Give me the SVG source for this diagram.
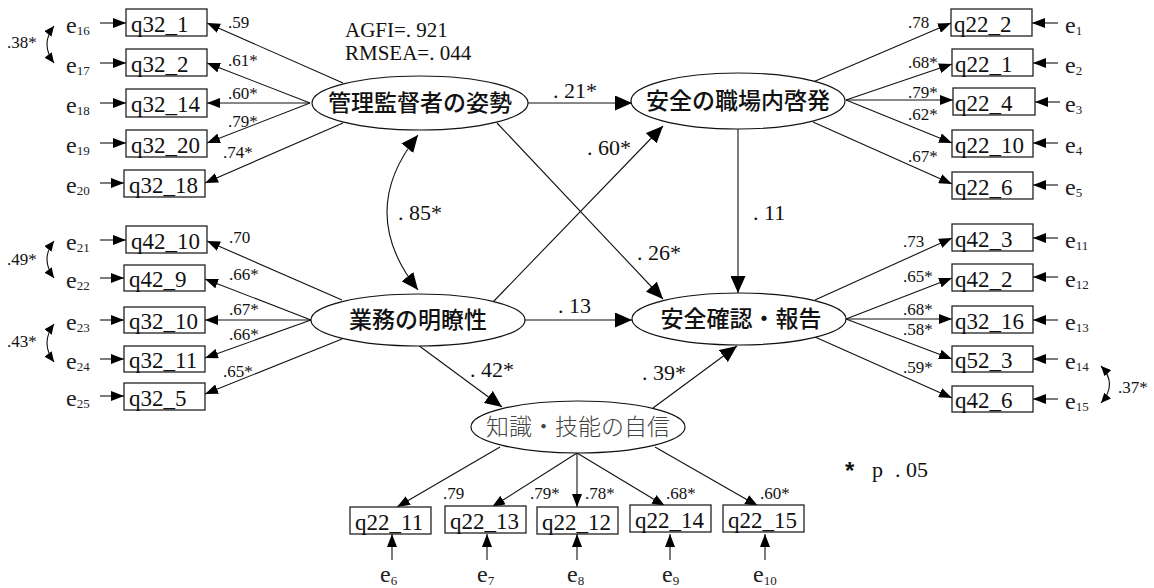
<svg xmlns="http://www.w3.org/2000/svg" width="1154" height="588" viewBox="0 0 1154 588">
<style>
.bg{fill:#fff}
.box{fill:#fff;stroke:#222;stroke-width:1.3}
.lv{fill:#fff;stroke:#111;stroke-width:1.2}
.lt{font-family:'Noto Sans CJK JP','Noto Sans',sans-serif;font-size:23px;font-weight:500;fill:#111;text-anchor:middle}
.lt2{font-family:'Noto Sans CJK JP','Noto Sans',sans-serif;font-size:23px;font-weight:300;fill:#444;text-anchor:middle}
.bt{font-family:'Liberation Serif','DejaVu Serif','Times New Roman',serif;font-size:23px;fill:#111}
.et{font-family:'Liberation Serif','DejaVu Serif','Times New Roman',serif;font-size:24px;fill:#222}
.sub{font-size:13px}
.pl{font-family:'Liberation Serif','DejaVu Serif','Times New Roman',serif;font-size:17px;fill:#111}
.sl{font-family:'Liberation Serif','DejaVu Serif','Times New Roman',serif;font-size:22px;fill:#111}
.st{font-family:'Liberation Serif','DejaVu Serif','Times New Roman',serif;font-size:21px;fill:#111}
.ln{stroke:#111;stroke-width:1.1;fill:none}
</style>
<defs>
<marker id="ab" markerUnits="userSpaceOnUse" markerWidth="17" markerHeight="15" refX="17" refY="7.5" orient="auto"><path d="M0,0 L17,7.5 L0,15 z" fill="#000"/></marker>
<marker id="ad" markerUnits="userSpaceOnUse" markerWidth="17" markerHeight="15" refX="17" refY="7.5" orient="auto-start-reverse"><path d="M0,0 L17,7.5 L0,15 z" fill="#000"/></marker>
<marker id="as" markerUnits="userSpaceOnUse" markerWidth="13" markerHeight="10" refX="13" refY="5" orient="auto"><path d="M0,0 L13,5 L0,10 z" fill="#000"/></marker>
<marker id="ac" markerUnits="userSpaceOnUse" markerWidth="10" markerHeight="9" refX="10" refY="4.5" orient="auto-start-reverse"><path d="M0,0 L10,4.5 L0,9 z" fill="#000"/></marker>
</defs>
<rect class="bg" x="0" y="0" width="1154" height="588"/>

<g id="connectors">
<path class="ln" marker-end="url(#as)" d="M343,83 L207,23"/>
<path class="ln" marker-end="url(#as)" d="M310,103 L207,63"/>
<path class="ln" marker-end="url(#as)" d="M310,103 L207,103"/>
<path class="ln" marker-end="url(#as)" d="M310,103 L207,143"/>
<path class="ln" marker-end="url(#as)" d="M343,123 L205,183"/>
<path class="ln" marker-end="url(#as)" d="M342,300 L207,241"/>
<path class="ln" marker-end="url(#as)" d="M311,320 L205,279"/>
<path class="ln" marker-end="url(#as)" d="M311,320 L205,320"/>
<path class="ln" marker-end="url(#as)" d="M311,320 L205,358"/>
<path class="ln" marker-end="url(#as)" d="M342,339 L205,394"/>
<path class="ln" marker-end="url(#as)" d="M813,82 L951,23"/>
<path class="ln" marker-end="url(#as)" d="M846,100 L952,64"/>
<path class="ln" marker-end="url(#as)" d="M846,100 L953,100"/>
<path class="ln" marker-end="url(#as)" d="M846,100 L952,143"/>
<path class="ln" marker-end="url(#as)" d="M813,122 L952,184"/>
<path class="ln" marker-end="url(#as)" d="M815,300 L952,238"/>
<path class="ln" marker-end="url(#as)" d="M846,319 L952,278"/>
<path class="ln" marker-end="url(#as)" d="M846,319 L952,319"/>
<path class="ln" marker-end="url(#as)" d="M846,319 L952,359"/>
<path class="ln" marker-end="url(#as)" d="M815,337 L952,398"/>
<path class="ln" marker-end="url(#as)" d="M500,447 L397,507"/>
<path class="ln" marker-end="url(#as)" d="M577,453 L492,507"/>
<path class="ln" marker-end="url(#as)" d="M577,453 L577,507"/>
<path class="ln" marker-end="url(#as)" d="M577,453 L665,506"/>
<path class="ln" marker-end="url(#as)" d="M655,447 L758,506"/>
<path class="ln" marker-end="url(#ab)" d="M528,103 L632,103"/>
<path class="ln" marker-end="url(#ab)" d="M493,302 L663,126"/>
<path class="ln" marker-end="url(#ab)" d="M497,123 L663,299"/>
<path class="ln" marker-end="url(#ab)" d="M738,129 L738,293"/>
<path class="ln" marker-start="url(#ad)" marker-end="url(#ad)" d="M418,135 Q356,212 418,290"/>
<path class="ln" marker-end="url(#ab)" d="M525,320 L632,320"/>
<path class="ln" marker-end="url(#ab)" d="M418,345 L502,407"/>
<path class="ln" marker-end="url(#ab)" d="M653,408 L737,346"/>
<path class="ln" marker-end="url(#as)" d="M100,23 L126,23"/>
<path class="ln" marker-end="url(#as)" d="M100,63 L126,63"/>
<path class="ln" marker-end="url(#as)" d="M100,103 L126,103"/>
<path class="ln" marker-end="url(#as)" d="M100,143 L126,143"/>
<path class="ln" marker-end="url(#as)" d="M100,183 L124,183"/>
<path class="ln" marker-end="url(#as)" d="M100,240 L126,240"/>
<path class="ln" marker-end="url(#as)" d="M100,278 L124,278"/>
<path class="ln" marker-end="url(#as)" d="M100,320 L124,320"/>
<path class="ln" marker-end="url(#as)" d="M100,359 L124,359"/>
<path class="ln" marker-end="url(#as)" d="M100,396 L124,396"/>
<path class="ln" marker-end="url(#as)" d="M1058,23 L1032,23"/>
<path class="ln" marker-end="url(#as)" d="M1058,63 L1033,63"/>
<path class="ln" marker-end="url(#as)" d="M1060,102 L1035,102"/>
<path class="ln" marker-end="url(#as)" d="M1058,143 L1033,143"/>
<path class="ln" marker-end="url(#as)" d="M1058,185 L1033,185"/>
<path class="ln" marker-end="url(#as)" d="M1058,238 L1033,238"/>
<path class="ln" marker-end="url(#as)" d="M1058,277 L1033,277"/>
<path class="ln" marker-end="url(#as)" d="M1058,320 L1033,320"/>
<path class="ln" marker-end="url(#as)" d="M1058,359 L1033,359"/>
<path class="ln" marker-end="url(#as)" d="M1058,399 L1033,399"/>
<path class="ln" marker-end="url(#as)" d="M392,560 L392,534"/>
<path class="ln" marker-end="url(#as)" d="M487,560 L487,534"/>
<path class="ln" marker-end="url(#as)" d="M577,560 L577,534"/>
<path class="ln" marker-end="url(#as)" d="M670,560 L670,534"/>
<path class="ln" marker-end="url(#as)" d="M765,560 L765,534"/>
<path class="ln" marker-start="url(#ac)" marker-end="url(#ac)" d="M54,26 Q40,44 54,63"/>
<path class="ln" marker-start="url(#ac)" marker-end="url(#ac)" d="M54,241 Q40,259 54,278"/>
<path class="ln" marker-start="url(#ac)" marker-end="url(#ac)" d="M54,324 Q40,343 54,362"/>
<path class="ln" marker-start="url(#ac)" marker-end="url(#ac)" d="M1101,366 Q1118,384 1101,403"/>
</g>

<g id="labels">
<text class="pl" x="228" y="28">.59</text>
<text class="pl" x="228" y="66">.61*</text>
<text class="pl" x="228" y="99">.60*</text>
<text class="pl" x="228" y="127">.79*</text>
<text class="pl" x="223" y="158">.74*</text>
<text class="pl" x="229" y="243">.70</text>
<text class="pl" x="229" y="280">.66*</text>
<text class="pl" x="229" y="315">.67*</text>
<text class="pl" x="229" y="340">.66*</text>
<text class="pl" x="223" y="377">.65*</text>
<text class="pl" x="7" y="48">.38*</text>
<text class="pl" x="7" y="265">.49*</text>
<text class="pl" x="7" y="347">.43*</text>
<text class="pl" x="908" y="28">.78</text>
<text class="pl" x="908" y="68">.68*</text>
<text class="pl" x="908" y="98">.79*</text>
<text class="pl" x="908" y="120">.62*</text>
<text class="pl" x="908" y="162">.67*</text>
<text class="pl" x="903" y="247">.73</text>
<text class="pl" x="903" y="282">.65*</text>
<text class="pl" x="903" y="315">.68*</text>
<text class="pl" x="903" y="335">.58*</text>
<text class="pl" x="903" y="373">.59*</text>
<text class="pl" x="1118" y="393">.37*</text>
<text class="pl" x="443" y="499">.79</text>
<text class="pl" x="530" y="499">.79*</text>
<text class="pl" x="585" y="499">.78*</text>
<text class="pl" x="666" y="499">.68*</text>
<text class="pl" x="760" y="499">.60*</text>
<text class="sl" x="553" y="98">. 21*</text>
<text class="sl" x="587" y="155">. 60*</text>
<text class="sl" x="637" y="260">. 26*</text>
<text class="sl" x="753" y="220">. 11</text>
<text class="sl" x="398" y="220">. 85*</text>
<text class="sl" x="558" y="313">. 13</text>
<text class="sl" x="470" y="377">. 42*</text>
<text class="sl" x="642" y="380">. 39*</text>
<text class="st" x="345" y="37">AGFI=. 921</text>
<text class="st" x="345" y="60">RMSEA=. 044</text>
<text class="sl" x="845" y="479"><tspan font-family="'Liberation Sans',sans-serif" font-weight="bold" font-size="24">*</tspan><tspan x="872" y="477">p</tspan><tspan x="895" y="477">. 05</tspan></text>
</g>

<g id="L1"><ellipse class="lv" cx="420" cy="103" rx="108" ry="27"/><text class="lt" x="420" y="111">管理監督者の姿勢</text></g>
<g id="L2"><ellipse class="lv" cx="738" cy="101" rx="107" ry="28"/><text class="lt" x="738" y="109">安全の職場内啓発</text></g>
<g id="L3"><ellipse class="lv" cx="418" cy="320" rx="107" ry="26"/><text class="lt" x="418" y="328">業務の明瞭性</text></g>
<g id="L4"><ellipse class="lv" cx="739" cy="319" rx="107" ry="26"/><text class="lt" x="741" y="327">安全確認・報告</text></g>
<g id="L5"><ellipse class="lv" cx="578" cy="427" rx="107" ry="26"/><text class="lt2" x="578" y="435">知識・技能の自信</text></g>

<g id="n_q32_1"><rect class="box" x="126" y="9" width="81" height="27"/><text class="bt" x="131" y="32">q32_1</text></g>
<g id="n_q32_2"><rect class="box" x="126" y="49" width="81" height="27"/><text class="bt" x="131" y="72">q32_2</text></g>
<g id="n_q32_14"><rect class="box" x="126" y="89" width="81" height="28"/><text class="bt" x="131" y="112">q32_14</text></g>
<g id="n_q32_20"><rect class="box" x="126" y="130" width="81" height="27"/><text class="bt" x="131" y="153">q32_20</text></g>
<g id="n_q32_18"><rect class="box" x="124" y="170" width="81" height="27"/><text class="bt" x="129" y="193">q32_18</text></g>
<g id="n_q42_10"><rect class="box" x="126" y="226" width="81" height="27"/><text class="bt" x="131" y="249">q42_10</text></g>
<g id="n_q42_9"><rect class="box" x="124" y="265" width="81" height="26"/><text class="bt" x="129" y="287">q42_9</text></g>
<g id="n_q32_10"><rect class="box" x="124" y="307" width="81" height="26"/><text class="bt" x="129" y="329">q32_10</text></g>
<g id="n_q32_11"><rect class="box" x="124" y="346" width="81" height="26"/><text class="bt" x="129" y="368">q32_11</text></g>
<g id="n_q32_5"><rect class="box" x="124" y="383" width="81" height="27"/><text class="bt" x="129" y="406">q32_5</text></g>

<g id="n_q22_2"><rect class="box" x="951" y="9" width="81" height="27"/><text class="bt" x="954" y="32">q22_2</text></g>
<g id="n_q22_1"><rect class="box" x="952" y="49" width="81" height="27"/><text class="bt" x="955" y="72">q22_1</text></g>
<g id="n_q22_4"><rect class="box" x="953" y="88" width="82" height="27"/><text class="bt" x="955" y="111">q22_4</text></g>
<g id="n_q22_10"><rect class="box" x="952" y="130" width="81" height="27"/><text class="bt" x="955" y="153">q22_10</text></g>
<g id="n_q22_6"><rect class="box" x="952" y="172" width="81" height="27"/><text class="bt" x="955" y="195">q22_6</text></g>
<g id="n_q42_3"><rect class="box" x="952" y="224" width="81" height="27"/><text class="bt" x="955" y="247">q42_3</text></g>
<g id="n_q42_2"><rect class="box" x="952" y="264" width="81" height="27"/><text class="bt" x="955" y="287">q42_2</text></g>
<g id="n_q32_16"><rect class="box" x="952" y="306" width="81" height="27"/><text class="bt" x="955" y="329">q32_16</text></g>
<g id="n_q52_3"><rect class="box" x="952" y="346" width="81" height="26"/><text class="bt" x="955" y="368">q52_3</text></g>
<g id="n_q42_6"><rect class="box" x="952" y="386" width="81" height="26"/><text class="bt" x="955" y="408">q42_6</text></g>

<g id="n_q22_11"><rect class="box" x="350" y="507" width="81" height="27"/><text class="bt" x="355" y="530">q22_11</text></g>
<g id="n_q22_13"><rect class="box" x="445" y="506" width="81" height="27"/><text class="bt" x="450" y="529">q22_13</text></g>
<g id="n_q22_12"><rect class="box" x="537" y="507" width="81" height="27"/><text class="bt" x="542" y="530">q22_12</text></g>
<g id="n_q22_14"><rect class="box" x="630" y="505" width="81" height="27"/><text class="bt" x="635" y="528">q22_14</text></g>
<g id="n_q22_15"><rect class="box" x="723" y="505" width="81" height="27"/><text class="bt" x="728" y="528">q22_15</text></g>

<g id="n_e16"><text class="et" x="66" y="33">e<tspan class="sub" dy="2">16</tspan></text></g>
<g id="n_e17"><text class="et" x="66" y="73">e<tspan class="sub" dy="2">17</tspan></text></g>
<g id="n_e18"><text class="et" x="66" y="113">e<tspan class="sub" dy="2">18</tspan></text></g>
<g id="n_e19"><text class="et" x="66" y="153">e<tspan class="sub" dy="2">19</tspan></text></g>
<g id="n_e20"><text class="et" x="66" y="193">e<tspan class="sub" dy="2">20</tspan></text></g>
<g id="n_e21"><text class="et" x="66" y="250">e<tspan class="sub" dy="2">21</tspan></text></g>
<g id="n_e22"><text class="et" x="66" y="288">e<tspan class="sub" dy="2">22</tspan></text></g>
<g id="n_e23"><text class="et" x="66" y="330">e<tspan class="sub" dy="2">23</tspan></text></g>
<g id="n_e24"><text class="et" x="66" y="369">e<tspan class="sub" dy="2">24</tspan></text></g>
<g id="n_e25"><text class="et" x="66" y="406">e<tspan class="sub" dy="2">25</tspan></text></g>

<g id="n_e1"><text class="et" x="1065" y="33">e<tspan class="sub" dy="2">1</tspan></text></g>
<g id="n_e2"><text class="et" x="1065" y="73">e<tspan class="sub" dy="2">2</tspan></text></g>
<g id="n_e3"><text class="et" x="1065" y="112">e<tspan class="sub" dy="2">3</tspan></text></g>
<g id="n_e4"><text class="et" x="1065" y="153">e<tspan class="sub" dy="2">4</tspan></text></g>
<g id="n_e5"><text class="et" x="1065" y="195">e<tspan class="sub" dy="2">5</tspan></text></g>
<g id="n_e11"><text class="et" x="1065" y="248">e<tspan class="sub" dy="2">11</tspan></text></g>
<g id="n_e12"><text class="et" x="1065" y="287">e<tspan class="sub" dy="2">12</tspan></text></g>
<g id="n_e13"><text class="et" x="1065" y="330">e<tspan class="sub" dy="2">13</tspan></text></g>
<g id="n_e14"><text class="et" x="1065" y="369">e<tspan class="sub" dy="2">14</tspan></text></g>
<g id="n_e15"><text class="et" x="1065" y="409">e<tspan class="sub" dy="2">15</tspan></text></g>

<g id="n_e6"><text class="et" x="380" y="582">e<tspan class="sub" dy="3">6</tspan></text></g>
<g id="n_e7"><text class="et" x="477" y="582">e<tspan class="sub" dy="3">7</tspan></text></g>
<g id="n_e8"><text class="et" x="567" y="582">e<tspan class="sub" dy="3">8</tspan></text></g>
<g id="n_e9"><text class="et" x="662" y="582">e<tspan class="sub" dy="3">9</tspan></text></g>
<g id="n_e10"><text class="et" x="753" y="582">e<tspan class="sub" dy="3">10</tspan></text></g>
</svg>
